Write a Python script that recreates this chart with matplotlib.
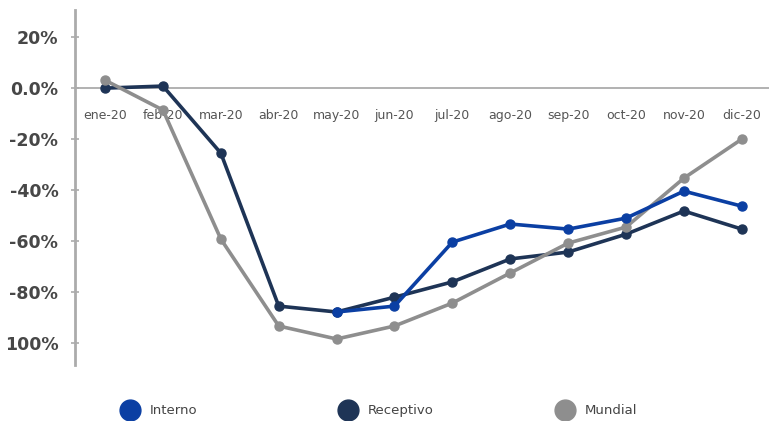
import numpy as np
import matplotlib
matplotlib.use("Agg")
import matplotlib.pyplot as plt
from matplotlib.lines import Line2D

# ----------------------------------------------------------------------------
# Data (% change vs. previous year)
# ----------------------------------------------------------------------------
MONTHS = ["ene-20", "feb-20", "mar-20", "abr-20", "may-20", "jun-20",
          "jul-20", "ago-20", "sep-20", "oct-20", "nov-20", "dic-20"]
INTERNO = [np.nan, np.nan, np.nan, np.nan, -87.8, -85.5,
           -60.4, -53.3, -55.3, -51.0, -40.4, -46.3]
RECEPTIVO = [0.0, 0.8, -25.5, -85.5, -87.8, -82.0,
             -76.0, -67.0, -64.3, -57.3, -48.2, -55.3]
MUNDIAL = [3.1, -8.6, -59.2, -93.3, -98.4, -93.3,
           -84.3, -72.5, -60.8, -54.5, -35.3, -20.0]
YTICKS = [20, 0, -20, -40, -60, -80, -100]
YTICK_LABELS = ["20%", "0.0%", "-20%", "-40%", "-60%", "-80%", "100%"]

C_INT = "#0b3fa3"
C_REC = "#1e3456"
C_MUN = "#8e8e8e"
GRID = "#ababab"

fig = plt.figure(figsize=(7.69, 4.21), dpi=100)
ax = fig.add_axes([0.0975, 0.133, 0.9025, 0.843])

x = np.arange(len(MONTHS))
series = [("Receptivo", RECEPTIVO, C_REC, 2),
          ("Mundial", MUNDIAL, C_MUN, 3),
          ("Interno", INTERNO, C_INT, 4)]
for name, vals, col, z in series:
    ax.plot(x, vals, color=col, lw=2.6, marker="o", ms=6.5, zorder=z,
            solid_capstyle="round")

ax.set_xlim(-0.52, 11.47)
ax.set_ylim(-108.6, 30.6)

# zero line doubles as the x axis, labels hang below it
for s in ("top", "right"):
    ax.spines[s].set_visible(False)
ax.spines["bottom"].set_position(("data", 0))
ax.spines["bottom"].set_color(GRID)
ax.spines["bottom"].set_linewidth(1.3)
ax.spines["bottom"].set_zorder(1)
ax.spines["left"].set_color(GRID)
ax.spines["left"].set_linewidth(2)

ax.set_xticks(x)
ax.set_xticklabels(MONTHS, fontsize=9, color="#555555")
ax.tick_params(axis="x", length=0, pad=15)

ax.set_yticks(YTICKS)
ax.set_yticklabels(YTICK_LABELS, fontsize=12.5, fontweight="bold",
                   color="#474747")
ax.tick_params(axis="y", direction="inout", length=6, width=1.2,
               color=GRID, pad=9)

# legend: three big dots spread along the bottom
for (name, vals, col, z), xa in zip(
        [series[2], series[0], series[1]], [0.161, 0.444, 0.726]):
    h = Line2D([0], [0], marker="o", linestyle="None", color=col,
               markersize=15, label=name)
    fig.legend(handles=[h], loc="center left", bbox_to_anchor=(xa, 0.024),
               frameon=False, fontsize=9.5, borderpad=0, borderaxespad=0,
               handlelength=1.0, handletextpad=1.0,
               labelcolor="#444444")

fig.savefig("out.png", dpi=100)
